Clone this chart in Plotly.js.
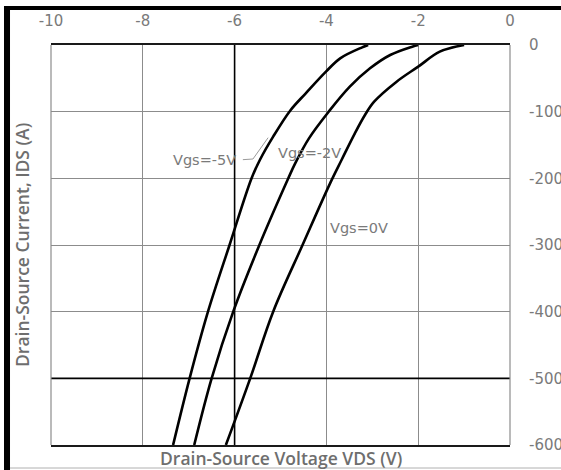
<!DOCTYPE html>
<html>
<head>
<meta charset="utf-8">
<script src="https://cdn.plot.ly/plotly-3.0.1.min.js"></script>
<style>
  html, body { margin: 0; padding: 0; background: #ffffff; }
  #chart { width: 561px; height: 470px; }
</style>
</head>
<body>
<div id="chart"></div>
<script>
// Output characteristics: drain-source current vs drain-source voltage (third quadrant)
const vdsGs5 = [-3.09, -3.22, -3.70, -4.01, -4.45, -4.79, -5.16, -5.45, -5.63, -6.11, -6.58, -6.98, -7.34];
const idsGs5 = [0, -3.5, -20, -40, -72.5, -98.5, -137.5, -172.5, -200, -300, -400, -500, -600];

const vdsGs2 = [-2.0, -2.13, -2.61, -3.05, -3.49, -3.95, -4.38, -4.68, -4.83, -5.46, -6.03, -6.5, -6.88];
const idsGs2 = [0, -2.5, -15, -35, -62.5, -100, -140, -177.5, -200, -300, -400, -500, -600];

const vdsGs0 = [-1.0, -1.53, -2.0, -2.47, -2.96, -3.16, -3.38, -3.67, -3.92, -4.52, -5.16, -5.66, -6.19];
const idsGs0 = [0, -10, -32.5, -55, -85, -105, -132.5, -172.5, -207.5, -300, -400, -500, -600];

const xTicks = [-10, -8, -6, -4, -2, 0];
const yTicks = [0, -100, -200, -300, -400, -500, -600];

// Curve labels: text, x (V), y (A)
const labelText = ['Vgs=-5V', 'Vgs=-2V', 'Vgs=0V'];
const labelX = [-6.66, -4.36, -3.29];
const labelY = [-172, -162, -275];

// Leader from the Vgs=-5V label to its curve
const leaderX = [-5.82, -5.6, -5.27];
const leaderY = [-172, -171, -139];

// Heavier reference lines
const heavyX = [-6];
const heavyY = [-500];

const curveStyle = { color: '#000000', width: 2.6, shape: 'spline', smoothing: 1.0 };
const traces = [
  { x: vdsGs5, y: idsGs5, mode: 'lines', line: curveStyle, hoverinfo: 'skip' },
  { x: vdsGs2, y: idsGs2, mode: 'lines', line: curveStyle, hoverinfo: 'skip' },
  { x: vdsGs0, y: idsGs0, mode: 'lines', line: curveStyle, hoverinfo: 'skip' }
];

const tickFont = { family: 'DejaVu Sans', size: 15, color: '#7a7a7a' };
const titleFont = { family: 'Open Sans', size: 17.5, color: '#6e6e6e', weight: 600 };
const labelFont = { family: 'DejaVu Sans', size: 14.5, color: '#7a7a7a' };

const shapes = [];
heavyX.forEach(v => shapes.push({ type: 'line', xref: 'x', yref: 'paper', x0: v, x1: v, y0: 0, y1: 1, line: { color: '#000', width: 1.6 } }));
heavyY.forEach(v => shapes.push({ type: 'line', xref: 'paper', yref: 'y', x0: 0, x1: 1, y0: v, y1: v, line: { color: '#000', width: 1.6 } }));
shapes.push({
  type: 'path', xref: 'x', yref: 'y',
  path: 'M' + leaderX.map((v, i) => v + ',' + leaderY[i]).join(' L'),
  line: { color: '#9a9a9a', width: 1 }
});
// Page frame: heavy black edge on the left and top, faint rule at the bottom
shapes.push({ type: 'rect', xref: 'paper', yref: 'paper', x0: -0.1024, x1: -0.0893, y0: -0.07, y1: 1.0975, fillcolor: '#000', line: { width: 0 } });
shapes.push({ type: 'rect', xref: 'paper', yref: 'paper', x0: -0.1024, x1: 1.12, y0: 1.0875, y1: 1.0975, fillcolor: '#000', line: { width: 0 } });
shapes.push({ type: 'line', xref: 'paper', yref: 'paper', x0: -0.0893, x1: 1.12, y0: -0.0575, y1: -0.0575, line: { color: '#b0b0b0', width: 1 } });
// Side borders of the plot area
shapes.push({ type: 'line', xref: 'paper', yref: 'paper', x0: 0, x1: 0, y0: 0, y1: 1, line: { color: '#8c8c8c', width: 1.2 } });
shapes.push({ type: 'line', xref: 'paper', yref: 'paper', x0: 1, x1: 1, y0: 0, y1: 1, line: { color: '#8c8c8c', width: 1.2 } });

const annotations = labelText.map((t, i) => ({
  x: labelX[i], y: labelY[i], xref: 'x', yref: 'y', text: t, showarrow: false,
  font: labelFont, xanchor: 'center', yanchor: 'middle'
}));
annotations.push({
  x: 0.5, y: -0.0325, xref: 'paper', yref: 'paper', text: 'Drain-Source Voltage VDS (V)',
  showarrow: false, font: titleFont, xanchor: 'center', yanchor: 'middle'
});
annotations.push({
  x: -0.0632, y: 0.5, xref: 'paper', yref: 'paper', text: 'Drain-Source Current, IDS (A)',
  showarrow: false, font: titleFont, xanchor: 'center', yanchor: 'middle', textangle: -90
});

const layout = {
  width: 561, height: 470,
  margin: { l: 51, r: 51, t: 45, b: 25, pad: 0 },
  paper_bgcolor: '#ffffff', plot_bgcolor: '#ffffff',
  showlegend: false,
  xaxis: {
    range: [-10, 0], side: 'top', tickvals: xTicks, ticktext: xTicks.map(String),
    showgrid: true, gridcolor: '#8c8c8c', gridwidth: 1, zeroline: false,
    showline: true, mirror: true, linecolor: '#1a1a1a', linewidth: 1.6,
    ticks: '', tickfont: tickFont, ticklabelstandoff: 11, fixedrange: true
  },
  yaxis: {
    range: [-600, 0], side: 'right', tickvals: yTicks, ticktext: yTicks.map(String),
    showgrid: true, gridcolor: '#8c8c8c', gridwidth: 1, zeroline: false,
    showline: false,
    ticks: '', tickfont: tickFont, ticklabelstandoff: 18, fixedrange: true
  },
  shapes: shapes,
  annotations: annotations
};

Plotly.newPlot('chart', traces, layout, { displayModeBar: false, staticPlot: true });
</script>
</body>
</html>
